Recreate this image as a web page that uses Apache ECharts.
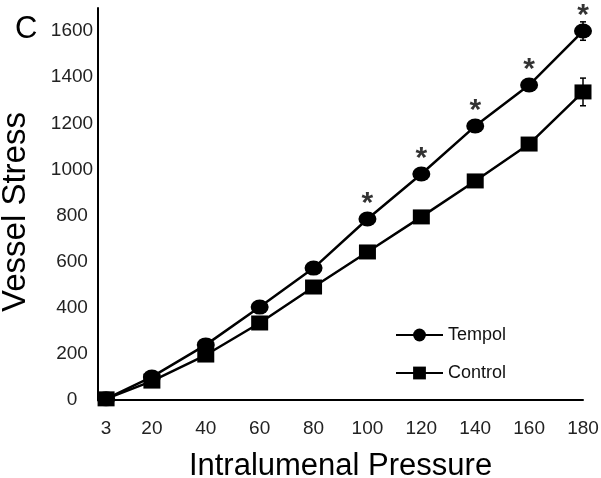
<!DOCTYPE html>
<html><head><meta charset="utf-8">
<script src="https://cdn.jsdelivr.net/npm/echarts@6/dist/echarts.min.js"></script>
<style>html,body{margin:0;padding:0;background:#fff}#c{width:601px;height:478px}</style>
</head><body><div id="c"></div>
<script>
var pressures = [3, 20, 40, 60, 80, 100, 120, 140, 160, 180];
var tempol = [5, 100, 239, 403, 572, 785, 980, 1188, 1366, 1600];
var tempolErr = [5, 8, 10, 10, 12, 15, 15, 18, 25, 40];
var control = [5, 82, 195, 334, 490, 642, 794, 950, 1110, 1336];
var controlErr = [5, 8, 8, 10, 10, 12, 12, 15, 18, 60];
var significant = [false, false, false, false, false, true, true, true, true, true];
var yTicks = [0, 200, 400, 600, 800, 1000, 1200, 1400, 1600];

var font = 'Liberation Sans, Arial, sans-serif';
function pairs(vals) { return pressures.map(function (p, i) { return [p, vals[i]]; }); }
function errData(vals, errs) { return pressures.map(function (p, i) { return [p, vals[i] - errs[i], vals[i] + errs[i]]; }); }
function errRender(params, api) {
  var x = api.value(0);
  var lo = api.coord([x, api.value(1)]);
  var hi = api.coord([x, api.value(2)]);
  var w = 3;
  var st = { stroke: '#000', lineWidth: 1.5 };
  return { type: 'group', children: [
    { type: 'line', shape: { x1: lo[0], y1: lo[1], x2: hi[0], y2: hi[1] }, style: st },
    { type: 'line', shape: { x1: lo[0] - w, y1: lo[1], x2: lo[0] + w, y2: lo[1] }, style: st },
    { type: 'line', shape: { x1: hi[0] - w, y1: hi[1], x2: hi[0] + w, y2: hi[1] }, style: st }
  ]};
}
var starData = [];
pressures.forEach(function (p, i) { if (significant[i]) starData.push([p, tempol[i]]); });

var chart = echarts.init(document.getElementById('c'), null, { renderer: 'canvas' });
chart.setOption({
  animation: false,
  backgroundColor: '#fff',
  title: { text: 'C', left: 10, top: 9, textStyle: { fontFamily: font, fontSize: 31, fontWeight: 'normal', color: '#000' } },
  grid: { left: 98, right: 18, top: 8, bottom: 78, containLabel: false, outerBoundsMode: 'none' },
  legend: {
    orient: 'vertical', left: 390, top: 321, itemWidth: 47, itemHeight: 16, itemGap: 20,
    textStyle: { fontFamily: font, fontSize: 18, color: '#111' },
    data: ['Tempol', 'Control']
  },
  xAxis: {
    type: 'value', min: 0, max: 180,
    name: 'Intralumenal Pressure', nameLocation: 'middle', nameGap: 51,
    nameTextStyle: { fontFamily: font, fontSize: 31, color: '#000' },
    axisLine: { lineStyle: { color: '#000', width: 2 } },
    axisTick: { show: false },
    splitLine: { show: false },
    axisLabel: { customValues: pressures, fontFamily: font, fontSize: 19, color: '#222', margin: 19 }
  },
  yAxis: {
    type: 'value', min: 0, max: 1700,
    name: 'Vessel Stress', nameLocation: 'middle', nameGap: 66,
    nameTextStyle: { fontFamily: font, fontSize: 33, color: '#000', padding: [0, 16, 0, 0] },
    axisLine: { show: true, lineStyle: { color: '#000', width: 2 } },
    axisTick: { show: false },
    splitLine: { show: false },
    axisLabel: { customValues: yTicks, formatter: function (v) { return String(v); },
      align: 'center', fontFamily: font, fontSize: 19, color: '#222', margin: 26, padding: [6, 0, 0, 0] }
  },
  series: [
    { name: 'TempolErr', type: 'custom', renderItem: errRender, data: errData(tempol, tempolErr), z: 1, silent: true },
    { name: 'ControlErr', type: 'custom', renderItem: errRender, data: errData(control, controlErr), z: 1, silent: true },
    { name: 'Control', type: 'line', data: pairs(control), symbol: 'rect', symbolSize: [17, 15],
      lineStyle: { color: '#000', width: 2.5 }, itemStyle: { color: '#000', borderWidth: 0 }, z: 3 },
    { name: 'Tempol', type: 'line', data: pairs(tempol), symbol: 'circle', symbolSize: [18, 15],
      lineStyle: { color: '#000', width: 2.5 }, itemStyle: { color: '#000', borderWidth: 0 }, z: 4 },
    { name: 'Sig', type: 'scatter', data: starData, symbolSize: 0, silent: true,
      label: { show: true, formatter: '*', position: 'top', distance: 0, fontFamily: font, fontSize: 30, fontWeight: 'bold', color: '#000' }, z: 5 }
  ]
});
</script></body></html>
